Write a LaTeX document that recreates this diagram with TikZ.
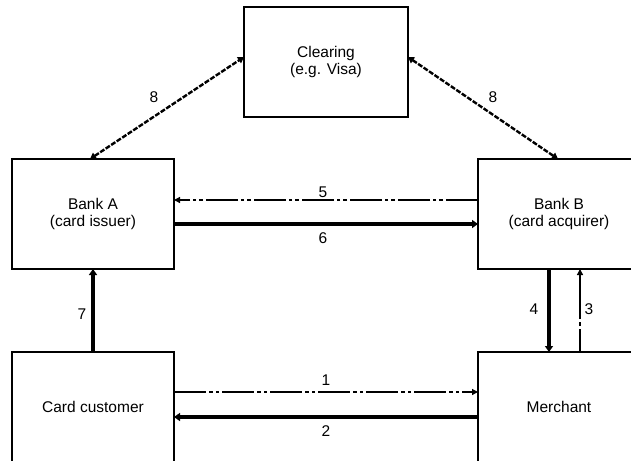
\documentclass[tikz,border=0pt]{standalone}
\usepackage{fontspec}
\setmainfont{Liberation Sans}
\usetikzlibrary{arrows.meta}
\begin{document}
\begin{tikzpicture}[x=1pt,y=-1pt,
  box/.style={draw,line width=2pt,minimum width=162pt,minimum height=110pt,
    inner sep=0pt,outer sep=0pt,align=center,font=\fontsize{15.5}{16.5}\selectfont},
  lbl/.style={inner sep=0pt,font=\fontsize{15.5}{16.5}\selectfont},
  thick arrow/.style={line width=3.4pt,-{Triangle[length=6pt,width=8pt]}},
  thin dash/.style={line width=1.3pt,dash pattern=on 32pt off 3pt on 4pt off 3pt on 3pt off 3pt,
    -{Triangle[length=6pt,width=6pt]}},
  clear arrow/.style={line width=2.4pt,dash pattern=on 5pt off 1.6pt,
    {Triangle[length=6pt,width=7pt]}-{Triangle[length=6pt,width=7pt]}}]
\useasboundingbox (0,0) rectangle (631,460);
\clip (0,0) rectangle (631,460);
\node[box,minimum width=164pt] (clearing) at (326,62) {Clearing\\(e.g. Visa)};
\node[box] (bankA) at (93,214) {Bank A\\(card issuer)};
\node[box] (bankB) at (559,214) {Bank B\\(card acquirer)};
\node[box] (customer) at (93,407) {Card customer};
\node[box] (merchant) at (559,407) {Merchant};
% 8
\draw[clear arrow] ([xshift=-3pt]bankA.north) -- ([yshift=5pt]clearing.west);
\draw[clear arrow] ([yshift=5pt]clearing.east) -- ([xshift=-1pt]bankB.north);
% 5 and 6
\draw[thin dash] ([yshift=14pt]bankB.west) -- ([yshift=14pt]bankA.east);
\draw[thick arrow] ([yshift=-10pt]bankA.east) -- ([yshift=-10pt]bankB.west);
% 7
\draw[thick arrow] (customer.north) -- (bankA.south);
% 4 and 3
\draw[thick arrow] ([xshift=-10pt]bankB.south) -- ([xshift=-10pt]merchant.north);
\draw[thin dash,dash pattern=on 23pt off 3pt on 4pt off 3pt on 60pt off 0pt] ([xshift=21pt]merchant.north) -- ([xshift=21pt]bankB.south);
% 1 and 2
\draw[thin dash] ([yshift=15pt]customer.east) -- ([yshift=15pt]merchant.west);
\draw[thick arrow] ([yshift=-10pt]merchant.west) -- ([yshift=-10pt]customer.east);
% labels
\node[lbl] (l8a) at (154,97) {8};
\node[lbl] (l8b) at (493,97) {8};
\node[lbl] (l5) at (323,192) {5};
\node[lbl] (l6) at (323,238) {6};
\node[lbl] (l7) at (82,314) {7};
\node[lbl] (l4) at (534,309) {4};
\node[lbl] (l3) at (589,309) {3};
\node[lbl] (l1) at (326,380) {1};
\node[lbl] (l2) at (326,431) {2};
\end{tikzpicture}
\end{document}
